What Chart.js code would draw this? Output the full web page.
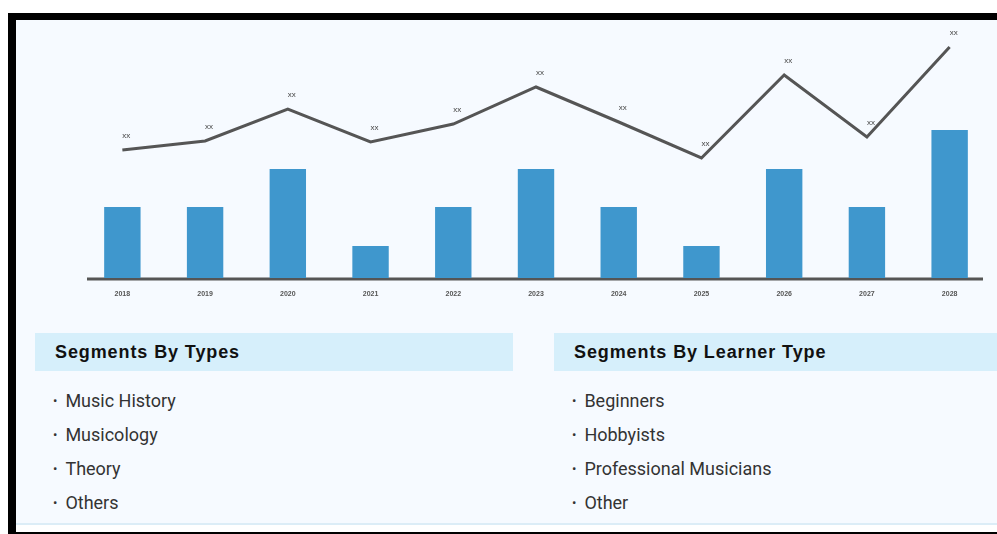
<!DOCTYPE html>
<html>
<head>
<meta charset="utf-8">
<script src="https://cdn.jsdelivr.net/npm/chart.js@4"></script>
<style>
  body { margin: 0; background: #fff; width: 997px; height: 534px; overflow: hidden; position: relative; }
  .frame { position: absolute; left: 8px; top: 13px; right: 0; height: 512px;
           border-left: 8px solid #000; border-top: 7px solid #000; border-bottom: 2px solid #000; background: #fff; }
  .panel { position: absolute; left: 0; top: 0; right: 0; height: 503px; background: #f6faff; border-bottom: 2px solid #dcedf7; }
  .chartbox { position: absolute; left: 0; top: 0; width: 981px; height: 300px; }
  .seg { position: absolute; top: 313px; font-family: Roboto, "Liberation Sans", sans-serif; }
  .seg h3 { margin: 0; height: 38px; line-height: 38px; background: #d6effb; font-size: 18px; font-weight: bold; color: #111;
            padding-left: 20px; letter-spacing: 0.9px; font-family: "Liberation Sans", Arial, sans-serif; }
  .seg ul { list-style: none; margin: 0; padding: 13px 0 0 18px; }
  .seg li { font-size: 18px; color: #333; height: 34px; line-height: 34px; }
  .seg li:before { content: "\2022"; font-size: 13px; margin-right: 8px; vertical-align: 2px; }
</style>
</head>
<body>
<div class="frame">
  <div class="panel">
    <div class="chartbox"><canvas id="c"></canvas></div>
    <div class="seg" style="left:19px;width:478px;">
      <h3>Segments By Types</h3>
      <ul id="typesList"></ul>
    </div>
    <div class="seg" style="left:538px;right:0;">
      <h3>Segments By Learner Type</h3>
      <ul id="learnerList"></ul>
    </div>
  </div>
</div>
<script>
// years on the x axis
var years = ['2018', '2019', '2020', '2021', '2022', '2023', '2024', '2025', '2026', '2027', '2028'];
// bar heights (arbitrary units)
var barValues = [71, 71, 109, 32, 71, 109, 71, 32, 109, 71, 148];
// line values, same units
var lineValues = [128, 137, 169, 136, 154, 191, 156, 120, 203, 141, 231];
// point labels
var pointLabels = ['xx', 'xx', 'xx', 'xx', 'xx', 'xx', 'xx', 'xx', 'xx', 'xx', 'xx'];

var types = ['Music History', 'Musicology', 'Theory', 'Others'];
var learnerTypes = ['Beginners', 'Hobbyists', 'Professional Musicians', 'Other'];

function fillList(id, items) {
  var ul = document.getElementById(id);
  items.forEach(function(t) {
    var li = document.createElement('li');
    li.textContent = t;
    ul.appendChild(li);
  });
}
fillList('typesList', types);
fillList('learnerList', learnerTypes);

// draws the "xx" text above each line point
var pointText = {
  id: 'pointText',
  afterDatasetsDraw: function(chart) {
    var meta = chart.getDatasetMeta(1);
    var ctx = chart.ctx;
    ctx.save();
    ctx.font = '8px "Liberation Sans", Arial, sans-serif';
    ctx.fillStyle = '#444';
    ctx.textAlign = 'center';
    ctx.textBaseline = 'middle';
    meta.data.forEach(function(pt, i) {
      ctx.fillText(pointLabels[i], pt.x + 4, pt.y - 14);
    });
    ctx.restore();
  }
};

// baseline under the bars, a bit shorter than the chart area
var baseLine = {
  id: 'baseLine',
  beforeDatasetsDraw: function(chart) {
    var a = chart.chartArea;
    var ctx = chart.ctx;
    ctx.save();
    ctx.strokeStyle = '#555';
    ctx.lineWidth = 3;
    ctx.beginPath();
    ctx.moveTo(a.left + 6, a.bottom + 1);
    ctx.lineTo(a.right - 8, a.bottom + 1);
    ctx.stroke();
    ctx.restore();
  }
};

Chart.defaults.animation = false;

var chart = new Chart('c', {
  type: 'bar',
  plugins: [baseLine, pointText],
  data: {
    labels: years,
    datasets: [
      {
        type: 'bar',
        data: barValues,
        backgroundColor: '#3f97cd',
        categoryPercentage: 1,
        barPercentage: 0.44,
        order: 2
      },
      {
        type: 'line',
        data: lineValues,
        borderColor: '#555',
        borderWidth: 3,
        pointRadius: 0,
        tension: 0,
        fill: false,
        order: 1
      }
    ]
  },
  options: {
    responsive: true,
    maintainAspectRatio: false,
    layout: { padding: { left: 65, right: 6, top: 8, bottom: 22 } },
    plugins: {
      legend: { display: false },
      tooltip: { enabled: false }
    },
    scales: {
      y: { display: false, min: 0, max: 250 },
      x: {
        afterFit: function(scale) { scale.height = 20; },
        grid: { display: false, drawTicks: false },
        border: { display: false },
        ticks: {
          padding: 12,
          color: '#555',
          font: { size: 7, weight: 'bold', family: '"Liberation Sans", Arial, sans-serif' }
        }
      }
    }
  }
});
</script>
</body>
</html>
